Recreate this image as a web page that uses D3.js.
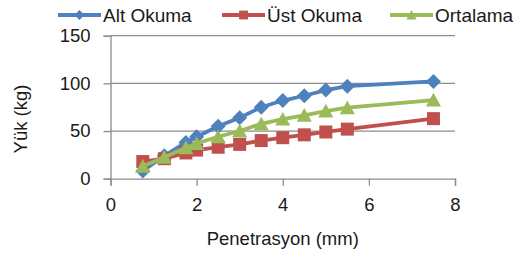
<!DOCTYPE html>
<html>
<head>
<meta charset="utf-8">
<script src="https://cdn.jsdelivr.net/npm/d3@7"></script>
<style>
  body { margin: 0; background: #fff; }
  text { font-family: "Liberation Sans", Arial, sans-serif; fill: #1a1a1a; }
</style>
</head>
<body>
<div id="chart"></div>
<script>
//////////////////////////////////////////////
// Data //////////////////////////////////////
//////////////////////////////////////////////
var penetrasyon = [0.75, 1.25, 1.75, 2, 2.5, 3, 3.5, 4, 4.5, 5, 5.5, 7.5];
var altOkuma    = [8, 24, 38, 44, 55, 64, 75, 82, 87, 93, 97, 102];
var ustOkuma    = [18, 21, 27, 30, 33, 36, 40, 43, 46, 49, 52, 63];
var ortalama    = [13, 22.5, 32.5, 37, 44, 50, 57.5, 62.5, 66.5, 71, 74.5, 82.5];
var seriesNames = ["Alt Okuma", "Üst Okuma", "Ortalama"];
var xTicks = [0, 2, 4, 6, 8];
var yTicks = [0, 50, 100, 150];

var series = [
  {name: seriesNames[0], values: altOkuma, color: "#4F81BD", marker: "diamond"},
  {name: seriesNames[1], values: ustOkuma, color: "#C0504D", marker: "square"},
  {name: seriesNames[2], values: ortalama, color: "#9BBB59", marker: "triangle"}
];

//////////////////////////////////////////////
// Chart Config /////////////////////////////
//////////////////////////////////////////////
var width = 520, height = 255;
var plot = {left: 110.5, right: 455, top: 35.7, bottom: 178.7};
var gridColor = "#8c8c8c";

var xScale = d3.scaleLinear().domain([0, 8]).range([plot.left, plot.right]);
var yScale = d3.scaleLinear().domain([0, 150]).range([plot.bottom, plot.top]);

var svg = d3.select("#chart").append("svg")
  .attr("width", width)
  .attr("height", height);

// marker shapes
function markerPath(type, s) {
  if (type == "diamond") {
    return "M0," + (-s) + "L" + s + ",0L0," + s + "L" + (-s) + ",0Z";
  }
  if (type == "square") {
    return "M" + (-s) + "," + (-s) + "H" + s + "V" + s + "H" + (-s) + "Z";
  }
  // triangle
  return "M0," + (-s) + "L" + (s * 1.05) + "," + (s * 0.9) + "L" + (-s * 1.05) + "," + (s * 0.9) + "Z";
}
var markerSize = {diamond: 7.5, square: 6.5, triangle: 7.2};

//////////////////////////////////////////////
// Grid + axes ///////////////////////////////
//////////////////////////////////////////////
svg.append("g")
  .selectAll("line")
  .data(yTicks.filter(function(d) { return d > 0; }))
  .enter().append("line")
    .attr("x1", plot.left)
    .attr("x2", plot.right)
    .attr("y1", function(d) { return yScale(d); })
    .attr("y2", function(d) { return yScale(d); })
    .style("stroke", gridColor)
    .style("stroke-width", 1.3);

var yAxis = d3.axisLeft(yScale).tickValues(yTicks).tickSize(7).tickPadding(13);
var yAxisEl = svg.append("g")
  .attr("transform", "translate(" + plot.left + ",0)")
  .call(yAxis);

var xAxis = d3.axisBottom(xScale).tickValues(xTicks).tickSize(7).tickPadding(12);
var xAxisEl = svg.append("g")
  .attr("transform", "translate(0," + plot.bottom + ")")
  .call(xAxis);

[yAxisEl, xAxisEl].forEach(function(el) {
  el.select(".domain").style("stroke", gridColor).style("stroke-width", 1.3);
  el.selectAll(".tick line").style("stroke", gridColor).style("stroke-width", 1.3);
  el.selectAll(".tick text")
    .style("font-size", "18.5px")
    .style("font-family", "'Liberation Sans', Arial, sans-serif")
    .style("fill", "#1a1a1a");
});

// axis titles
svg.append("text")
  .attr("x", xScale(4))
  .attr("y", 245)
  .attr("text-anchor", "middle")
  .style("font-size", "18.5px")
  .text("Penetrasyon (mm)");

svg.append("text")
  .attr("transform", "translate(27,119) rotate(-90)")
  .attr("text-anchor", "middle")
  .style("font-size", "18.5px")
  .text("Yük (kg)");

//////////////////////////////////////////////
// Series ////////////////////////////////////
//////////////////////////////////////////////
var line = d3.line()
  .x(function(d) { return xScale(d[0]); })
  .y(function(d) { return yScale(d[1]); });

series.forEach(function(s) {
  var pts = penetrasyon.map(function(x, i) { return [x, s.values[i]]; });
  var g = svg.append("g");
  g.append("path")
    .datum(pts)
    .attr("d", line)
    .style("fill", "none")
    .style("stroke", s.color)
    .style("stroke-width", 3.8)
    .style("stroke-linejoin", "round");
  g.selectAll("path.m")
    .data(pts)
    .enter().append("path")
      .attr("class", "m")
      .attr("transform", function(d) { return "translate(" + xScale(d[0]) + "," + yScale(d[1]) + ")"; })
      .attr("d", markerPath(s.marker, markerSize[s.marker]))
      .style("fill", s.color);
});

//////////////////////////////////////////////
// Legend ////////////////////////////////////
//////////////////////////////////////////////
var legendX = [58, 222, 390];
var legend = svg.append("g").selectAll("g")
  .data(series)
  .enter().append("g")
    .attr("transform", function(d, i) { return "translate(" + legendX[i] + ",15)"; });

legend.append("line")
  .attr("x1", 0).attr("x2", 43)
  .attr("y1", 0).attr("y2", 0)
  .style("stroke", function(d) { return d.color; })
  .style("stroke-width", 3.8);
legend.append("path")
  .attr("transform", "translate(21.5,0)")
  .attr("d", function(d) { return markerPath(d.marker, markerSize[d.marker] * 0.68); })
  .style("fill", function(d) { return d.color; });
legend.append("text")
  .attr("x", 45)
  .attr("y", 6.8)
  .style("font-size", "19px")
  .text(function(d) { return d.name; });
</script>
</body>
</html>
